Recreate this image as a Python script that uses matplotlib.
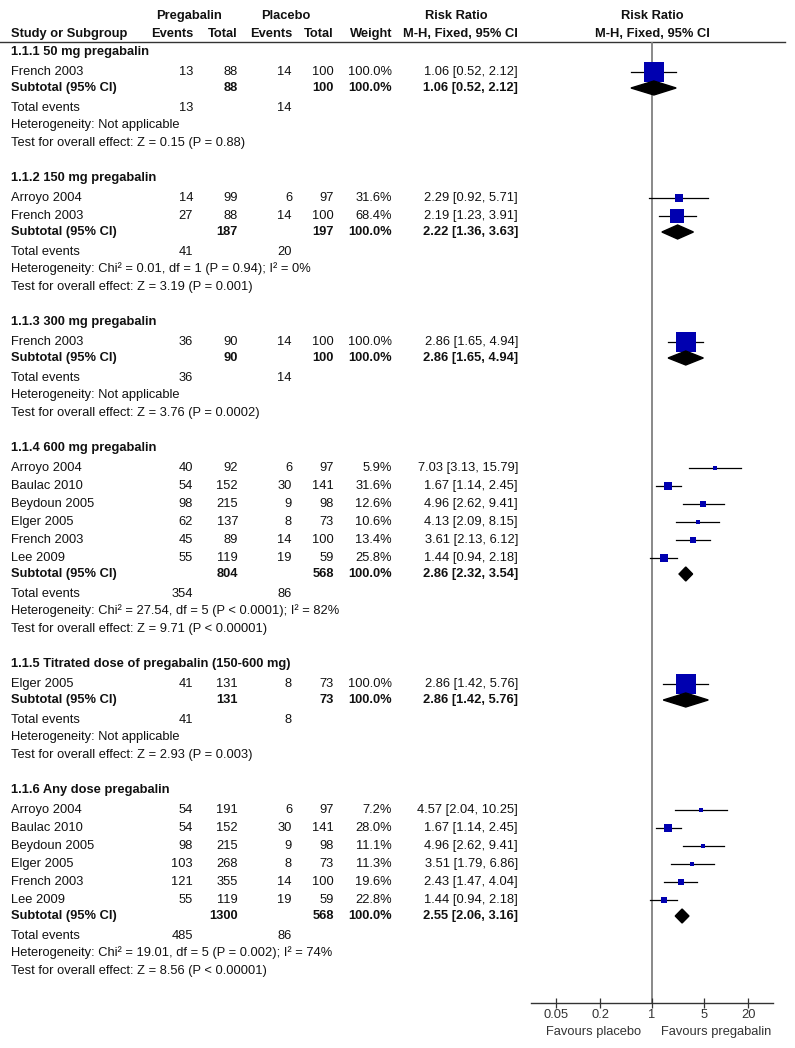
import matplotlib
matplotlib.use("Agg")
import matplotlib.pyplot as plt
from matplotlib.patches import Polygon

plt.rcParams['font.family'] = ['Liberation Sans', 'DejaVu Sans']

# ---- data ----
group_titles = [
    "1.1.1 50 mg pregabalin",
    "1.1.2 150 mg pregabalin",
    "1.1.3 300 mg pregabalin",
    "1.1.4 600 mg pregabalin",
    "1.1.5 Titrated dose of pregabalin (150-600 mg)",
    "1.1.6 Any dose pregabalin",
]

study_group = [0, 1, 1, 2, 3, 3, 3, 3, 3, 3, 4, 5, 5, 5, 5, 5, 5]
study_names = ["French 2003",
               "Arroyo 2004", "French 2003",
               "French 2003",
               "Arroyo 2004", "Baulac 2010", "Beydoun 2005", "Elger 2005", "French 2003", "Lee 2009",
               "Elger 2005",
               "Arroyo 2004", "Baulac 2010", "Beydoun 2005", "Elger 2005", "French 2003", "Lee 2009"]
preg_events = [13, 14, 27, 36, 40, 54, 98, 62, 45, 55, 41, 54, 54, 98, 103, 121, 55]
preg_total = [88, 99, 88, 90, 92, 152, 215, 137, 89, 119, 131, 191, 152, 215, 268, 355, 119]
plac_events = [14, 6, 14, 14, 6, 30, 9, 8, 14, 19, 8, 6, 30, 9, 8, 14, 19]
plac_total = [100, 97, 100, 100, 97, 141, 98, 73, 100, 59, 73, 97, 141, 98, 73, 100, 59]
weights = [100.0, 31.6, 68.4, 100.0, 5.9, 31.6, 12.6, 10.6, 13.4, 25.8, 100.0,
           7.2, 28.0, 11.1, 11.3, 19.6, 22.8]
rr = [1.06, 2.29, 2.19, 2.86, 7.03, 1.67, 4.96, 4.13, 3.61, 1.44, 2.86,
      4.57, 1.67, 4.96, 3.51, 2.43, 1.44]
ci_low = [0.52, 0.92, 1.23, 1.65, 3.13, 1.14, 2.62, 2.09, 2.13, 0.94, 1.42,
          2.04, 1.14, 2.62, 1.79, 1.47, 0.94]
ci_high = [2.12, 5.71, 3.91, 4.94, 15.79, 2.45, 9.41, 8.15, 6.12, 2.18, 5.76,
           10.25, 2.45, 9.41, 6.86, 4.04, 2.18]

sub_preg_total = [88, 187, 90, 804, 131, 1300]
sub_plac_total = [100, 197, 100, 568, 73, 568]
sub_rr = [1.06, 2.22, 2.86, 2.86, 2.86, 2.55]
sub_low = [0.52, 1.36, 1.65, 2.32, 1.42, 2.06]
sub_high = [2.12, 3.63, 4.94, 3.54, 5.76, 3.16]
tot_preg_events = [13, 41, 36, 354, 41, 485]
tot_plac_events = [14, 20, 14, 86, 8, 86]
heterogeneity = ["Not applicable",
                 "Chi\u00b2 = 0.01, df = 1 (P = 0.94); I\u00b2 = 0%",
                 "Not applicable",
                 "Chi\u00b2 = 27.54, df = 5 (P < 0.0001); I\u00b2 = 82%",
                 "Not applicable",
                 "Chi\u00b2 = 19.01, df = 5 (P = 0.002); I\u00b2 = 74%"]
overall_effect = ["Z = 0.15 (P = 0.88)", "Z = 3.19 (P = 0.001)", "Z = 3.76 (P = 0.0002)",
                  "Z = 9.71 (P < 0.00001)", "Z = 2.93 (P = 0.003)", "Z = 8.56 (P < 0.00001)"]

axis_ticks = [0.05, 0.2, 1, 5, 20]
axis_ticklabels = ["0.05", "0.2", "1", "5", "20"]

# ---- layout (pixel units) ----
W, H = 795, 1048
FS = 9.3
TXT = '#111111'
BLUE = '#0000b0'
X_NAME, X_EV1, X_TOT1, X_EV2, X_TOT2, X_W, X_RR = 11, 193, 238, 292, 334, 392, 518
AX_L, AX_R, AX_Y, TOP = 531, 773, 1003, 42
X_ONE = 652
PX_DEC = 74.0

fig = plt.figure(figsize=(W / 100, H / 100), dpi=100)
tx = fig.add_axes([0, 0, 1, 1])
tx.set_xlim(0, W)
tx.set_ylim(H, 0)
tx.axis('off')

fa = fig.add_axes([AX_L / W, (H - AX_Y) / H, (AX_R - AX_L) / W, (AX_Y - TOP) / H])
fa.set_xscale('log')
fa.set_xlim(10 ** (-(X_ONE - AX_L) / PX_DEC), 10 ** ((AX_R - X_ONE) / PX_DEC))
fa.set_ylim(AX_Y, TOP)
fa.patch.set_alpha(0)
for s in ['top', 'left', 'right']:
    fa.spines[s].set_visible(False)
fa.spines['bottom'].set_color('#333333')
fa.spines['bottom'].set_linewidth(1.0)
fa.set_yticks([])
fa.set_xticks(axis_ticks)
fa.set_xticklabels(axis_ticklabels)
fa.minorticks_off()
fa.tick_params(axis='x', direction='inout', length=7, width=0.9, color='#333333',
               labelsize=FS, labelcolor='#333333', pad=1)
fa.axvline(1, color='#808080', lw=1.3, zorder=1)


def put(x, y, s, ha='right', bold=False, color=TXT):
    tx.text(x, y, s, ha=ha, va='center', fontsize=FS, color=color,
            fontweight='bold' if bold else 'normal')


def fmt_rr(e, lo, hi):
    return f"{e:.2f} [{lo:.2f}, {hi:.2f}]"


# header
put(189, 16, "Pregabalin", ha='center', bold=True)
put(286, 16, "Placebo", ha='center', bold=True)
put(456, 16, "Risk Ratio", ha='center', bold=True)
put(X_ONE, 16, "Risk Ratio", ha='center', bold=True)
put(X_NAME, 34, "Study or Subgroup", ha='left', bold=True)
put(X_EV1, 34, "Events", bold=True)
put(X_TOT1, 34, "Total", bold=True)
put(X_EV2, 34, "Events", bold=True)
put(X_TOT2, 34, "Total", bold=True)
put(X_W, 34, "Weight", bold=True)
put(X_RR, 34, "M-H, Fixed, 95% CI", bold=True)
put(X_ONE, 34, "M-H, Fixed, 95% CI", ha='center', bold=True)
tx.plot([0, 785], [TOP, TOP], color='#333333', lw=1.0)

y = 52
for g, title in enumerate(group_titles):
    put(X_NAME, y, title, ha='left', bold=True)
    y += 20
    for i in range(len(study_names)):
        if study_group[i] != g:
            continue
        put(X_NAME, y, study_names[i], ha='left')
        put(X_EV1, y, str(preg_events[i]))
        put(X_TOT1, y, str(preg_total[i]))
        put(X_EV2, y, str(plac_events[i]))
        put(X_TOT2, y, str(plac_total[i]))
        put(X_W, y, f"{weights[i]:.1f}%")
        put(X_RR, y, fmt_rr(rr[i], ci_low[i], ci_high[i]))
        fa.plot([ci_low[i], ci_high[i]], [y, y], color='black', lw=0.9, zorder=2)
        side = 3 + 17 * weights[i] / 100
        fa.plot(rr[i], y, marker='s', ms=side * 0.72, color=BLUE, mec=BLUE, mew=0, zorder=3)
        y += 18
    y -= 2
    put(X_NAME, y, "Subtotal (95% CI)", ha='left', bold=True)
    put(X_TOT1, y, str(sub_preg_total[g]), bold=True)
    put(X_TOT2, y, str(sub_plac_total[g]), bold=True)
    put(X_W, y, "100.0%", bold=True)
    put(X_RR, y, fmt_rr(sub_rr[g], sub_low[g], sub_high[g]), bold=True)
    fa.add_patch(Polygon([(sub_low[g], y), (sub_rr[g], y - 7), (sub_high[g], y),
                          (sub_rr[g], y + 7)], closed=True, color='black', zorder=4))
    y += 20
    put(X_NAME, y, "Total events", ha='left')
    put(X_EV1, y, str(tot_preg_events[g]))
    put(X_EV2, y, str(tot_plac_events[g]))
    y += 17
    put(X_NAME, y, "Heterogeneity: " + heterogeneity[g], ha='left')
    y += 18
    put(X_NAME, y, "Test for overall effect: " + overall_effect[g], ha='left')
    y += 35

tx.text(594, 1032, "Favours placebo", ha='center', va='center', fontsize=FS, color='#333333')
tx.text(716, 1032, "Favours pregabalin", ha='center', va='center', fontsize=FS, color='#333333')

fig.savefig("out.png", dpi=100, facecolor='white')
